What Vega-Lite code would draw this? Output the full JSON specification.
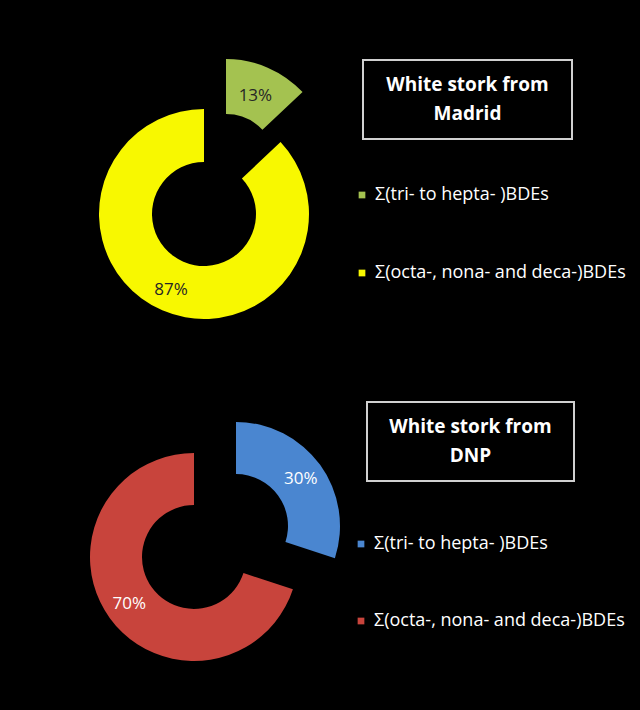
{
  "$schema": "https://vega.github.io/schema/vega-lite/v6.json",
  "background": "black",
  "padding": {"left": 54, "top": 59, "right": 16, "bottom": 0},
  "spacing": 33,
  "config": {"view": {"stroke": null}, "font": "Open Sans"},
  "datasets": {
    "stork": [
      {"site": "Madrid", "group": "Σ(tri- to hepta- )BDEs", "share": 0.13, "order": 1},
      {"site": "Madrid", "group": "Σ(octa-, nona- and deca-)BDEs", "share": 0.87, "order": 2},
      {"site": "DNP", "group": "Σ(tri- to hepta- )BDEs", "share": 0.30, "order": 1},
      {"site": "DNP", "group": "Σ(octa-, nona- and deca-)BDEs", "share": 0.70, "order": 2}
    ]
  },
  "resolve": {"scale": {"color": "independent"}, "legend": {"color": "independent"}},
  "vconcat": [
    {
      "bounds": "flush",
      "spacing": 9,
      "resolve": {"scale": {"color": "independent"}, "legend": {"color": "independent"}},
      "hconcat": [
        {
          "width": 300,
          "height": 308,
          "data": {"name": "stork"},
          "transform": [
            {"filter": "datum.site === 'Madrid'"},
            {"stack": "share", "groupby": ["site"], "sort": [{"field": "order", "order": "ascending"}], "as": ["t0", "t1"]}
          ],
          "layer": [
            {
              "transform": [{"filter": "datum.order === 2"}],
              "mark": {"type": "arc", "innerRadius": 52, "outerRadius": 105},
              "encoding": {
                "theta": {"field": "t0", "type": "quantitative", "scale": {"domain": [0, 1]}},
                "theta2": {"field": "t1"},
                "color": {
                  "field": "group", "type": "nominal",
                  "scale": {"domain": ["Σ(tri- to hepta- )BDEs", "Σ(octa-, nona- and deca-)BDEs"], "range": ["#a4c250", "#f8f800"]},
                  "legend": {"orient": "none", "legendX": 299, "legendY": 126, "title": null, "symbolType": "square", "symbolSize": 45, "symbolStrokeWidth": 0, "labelFontSize": 18, "labelColor": "white", "labelFont": "Open Sans", "labelLimit": 400, "rowPadding": 60, "padding": 0, "labelOffset": 4}
                }
              }
            },
            {
              "transform": [{"filter": "datum.order === 1"}],
              "mark": {"type": "arc", "innerRadius": 50, "outerRadius": 105, "xOffset": 22, "yOffset": -50},
              "encoding": {
                "theta": {"field": "t0", "type": "quantitative", "scale": {"domain": [0, 1]}},
                "theta2": {"field": "t1"},
                "color": {"field": "group", "type": "nominal"}
              }
            },
            {
              "transform": [
                {"fold": ["t0", "t1"], "as": ["edge", "t"]},
                {"aggregate": [{"op": "mean", "field": "t", "as": "mid"}], "groupby": ["group", "share", "order"]},
                {"filter": "datum.order === 2"}
              ],
              "mark": {"type": "text", "radius": 83, "fontSize": 17, "color": "#262626", "font": "Open Sans"},
              "encoding": {
                "theta": {"field": "mid", "type": "quantitative", "scale": {"domain": [0, 1]}},
                "text": {"field": "share", "type": "quantitative", "format": ".0%"}
              }
            },
            {
              "transform": [
                {"fold": ["t0", "t1"], "as": ["edge", "t"]},
                {"aggregate": [{"op": "mean", "field": "t", "as": "mid"}], "groupby": ["group", "share", "order"]},
                {"filter": "datum.order === 1"}
              ],
              "mark": {"type": "text", "radius": 74, "fontSize": 17, "color": "#262626", "font": "Open Sans", "xOffset": 22, "yOffset": -50},
              "encoding": {
                "theta": {"field": "mid", "type": "quantitative", "scale": {"domain": [0, 1]}},
                "text": {"field": "share", "type": "quantitative", "format": ".0%"}
              }
            }
          ]
        },
        {
          "width": 209,
          "height": 79,
          "view": {"stroke": "#d0d0d0", "strokeWidth": 2},
          "data": {"values": [{}]},
          "mark": {"type": "text", "fontSize": 19, "fontWeight": "bold", "color": "white", "font": "Open Sans", "lineHeight": 29, "baseline": "middle", "dy": -14.5},
          "encoding": {"text": {"value": ["White stork from", "Madrid"]}}
        }
      ]
    },
    {
      "bounds": "flush",
      "spacing": 33,
      "resolve": {"scale": {"color": "independent"}, "legend": {"color": "independent"}},
      "hconcat": [
        {
          "width": 280,
          "height": 310,
          "data": {"name": "stork"},
          "transform": [
            {"filter": "datum.site === 'DNP'"},
            {"stack": "share", "groupby": ["site"], "sort": [{"field": "order", "order": "ascending"}], "as": ["t0", "t1"]}
          ],
          "layer": [
            {
              "transform": [{"filter": "datum.order === 2"}],
              "mark": {"type": "arc", "innerRadius": 52, "outerRadius": 104},
              "encoding": {
                "theta": {"field": "t0", "type": "quantitative", "scale": {"domain": [0, 1]}},
                "theta2": {"field": "t1"},
                "color": {
                  "field": "group", "type": "nominal",
                  "scale": {"domain": ["Σ(tri- to hepta- )BDEs", "Σ(octa-, nona- and deca-)BDEs"], "range": ["#4a86d0", "#c8443c"]},
                  "legend": {"orient": "none", "legendX": 298, "legendY": 133, "title": null, "symbolType": "square", "symbolSize": 45, "symbolStrokeWidth": 0, "labelFontSize": 18, "labelColor": "white", "labelFont": "Open Sans", "labelLimit": 400, "rowPadding": 59, "padding": 0, "labelOffset": 4}
                }
              }
            },
            {
              "transform": [{"filter": "datum.order === 1"}],
              "mark": {"type": "arc", "innerRadius": 52, "outerRadius": 104, "xOffset": 42, "yOffset": -31},
              "encoding": {
                "theta": {"field": "t0", "type": "quantitative", "scale": {"domain": [0, 1]}},
                "theta2": {"field": "t1"},
                "color": {"field": "group", "type": "nominal"}
              }
            },
            {
              "transform": [
                {"fold": ["t0", "t1"], "as": ["edge", "t"]},
                {"aggregate": [{"op": "mean", "field": "t", "as": "mid"}], "groupby": ["group", "share", "order"]},
                {"filter": "datum.order === 2"}
              ],
              "mark": {"type": "text", "radius": 80, "fontSize": 17, "color": "white", "font": "Open Sans"},
              "encoding": {
                "theta": {"field": "mid", "type": "quantitative", "scale": {"domain": [0, 1]}},
                "text": {"field": "share", "type": "quantitative", "format": ".0%"}
              }
            },
            {
              "transform": [
                {"fold": ["t0", "t1"], "as": ["edge", "t"]},
                {"aggregate": [{"op": "mean", "field": "t", "as": "mid"}], "groupby": ["group", "share", "order"]},
                {"filter": "datum.order === 1"}
              ],
              "mark": {"type": "text", "radius": 80, "fontSize": 17, "color": "white", "font": "Open Sans", "xOffset": 42, "yOffset": -31},
              "encoding": {
                "theta": {"field": "mid", "type": "quantitative", "scale": {"domain": [0, 1]}},
                "text": {"field": "share", "type": "quantitative", "format": ".0%"}
              }
            }
          ]
        },
        {
          "width": 207,
          "height": 79,
          "view": {"stroke": "#d0d0d0", "strokeWidth": 2},
          "data": {"values": [{}]},
          "mark": {"type": "text", "fontSize": 19, "fontWeight": "bold", "color": "white", "font": "Open Sans", "lineHeight": 29, "baseline": "middle", "dy": -14.5},
          "encoding": {"text": {"value": ["White stork from", "DNP"]}}
        }
      ]
    }
  ]
}
